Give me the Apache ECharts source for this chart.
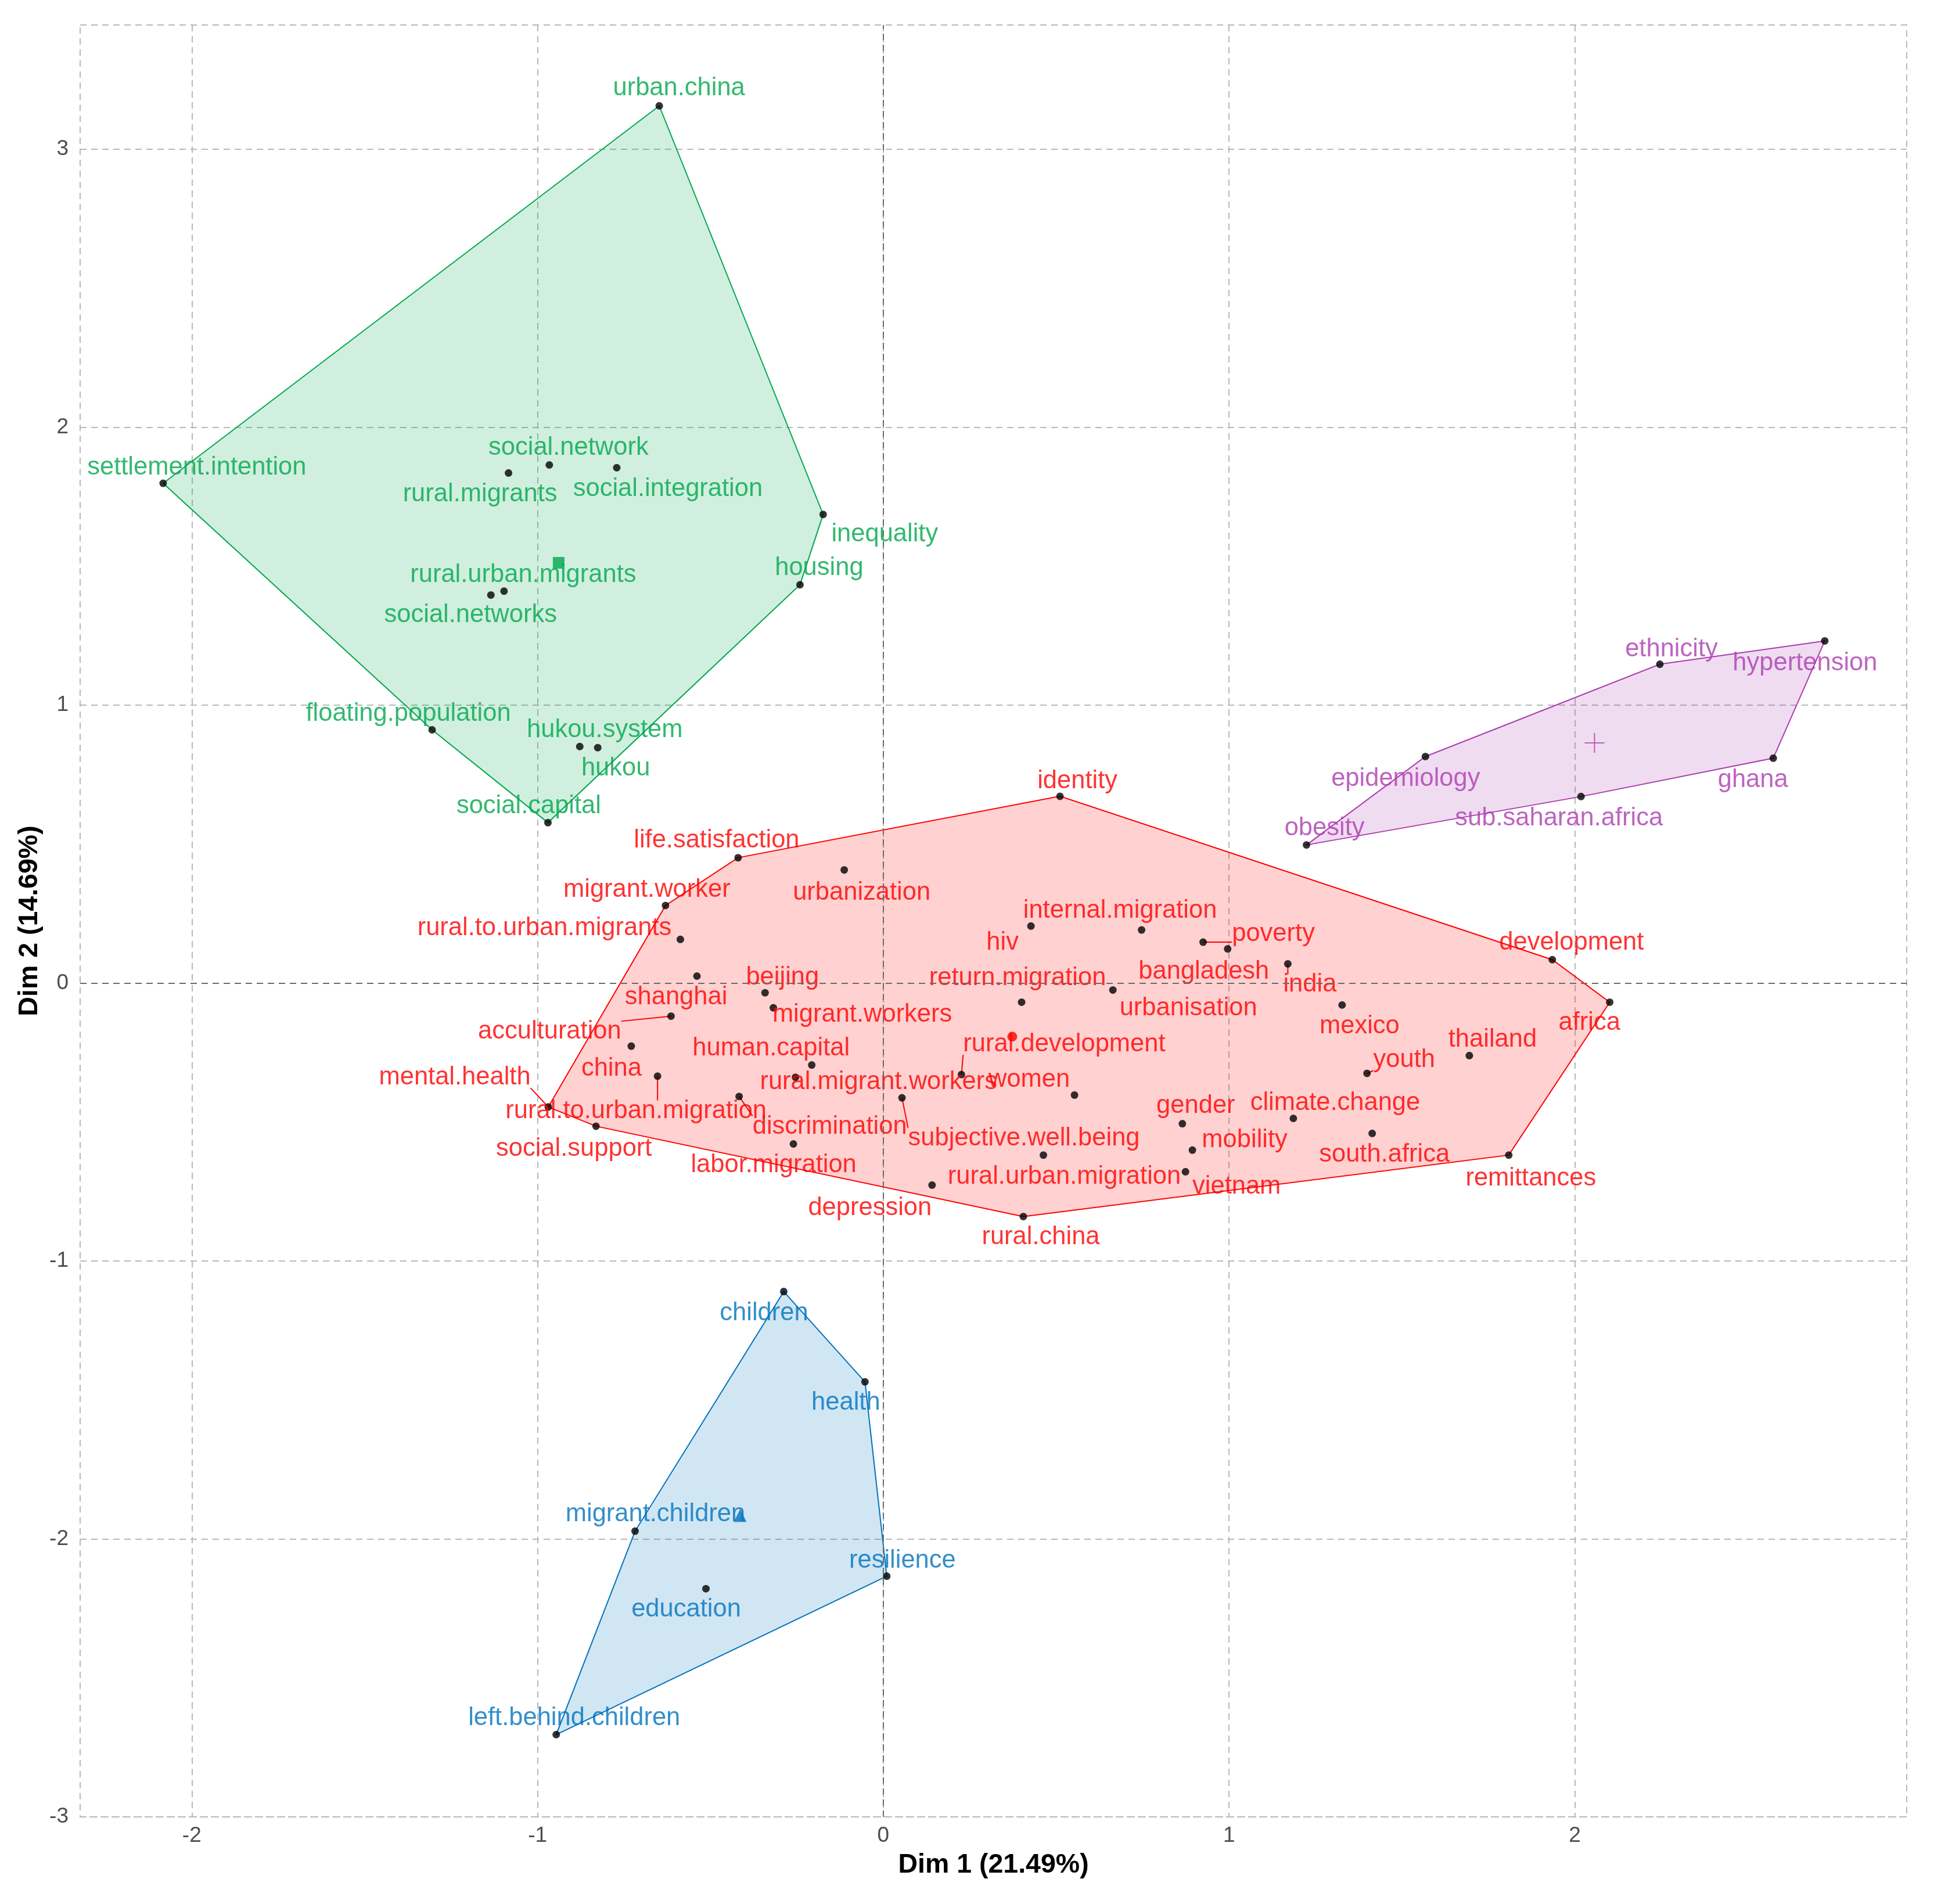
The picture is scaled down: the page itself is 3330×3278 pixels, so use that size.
<!doctype html>
<html>
    <head>
        <meta charset="utf-8">
        <title>Cluster plot - keywords</title>
        <style>
            html, body { margin: 0; padding: 0; background: #fff; }
            #main { width: 3330px; height: 3278px; }
        </style>
    </head>
    <body>
        <div id="main"></div>
        <script src="https://cdn.jsdelivr.net/npm/echarts@6/dist/echarts.min.js"></script>
        <script>
            // tick labels
            var xTicks = [-2, -1, 0, 1, 2];
            var yTicks = [-3, -2, -1, 0, 1, 2, 3];

            // cluster: green
            var greenTerms = ['urban.china', 'settlement.intention', 'social.network', 'rural.migrants',
                'social.integration', 'inequality', 'housing', 'rural.urban.migrants', 'social.networks',
                'floating.population', 'hukou.system', 'hukou', 'social.capital'];
            var greenDim1 = [-0.648, -2.083, -0.966, -1.084, -0.771, -0.174, -0.241, -1.097, -1.135, -1.305, -0.878, -0.826, -0.970];
            var greenDim2 = [3.156, 1.798, 1.864, 1.835, 1.854, 1.686, 1.433, 1.410, 1.396, 0.911, 0.851, 0.847, 0.577];

            // cluster: red
            var redTerms = ['identity', 'life.satisfaction', 'urbanization', 'migrant.worker', 'rural.to.urban.migrants',
                'shanghai', 'beijing', 'migrant.workers', 'acculturation', 'china', 'rural.to.urban.migration',
                'mental.health', 'social.support', 'discrimination', 'labor.migration', 'human.capital',
                'rural.migrant.workers', 'rural.development', 'subjective.well.being', 'depression', 'women',
                'return.migration', 'urbanisation', 'rural.urban.migration', 'rural.china', 'hiv',
                'internal.migration', 'poverty', 'bangladesh', 'india', 'mexico', 'development', 'africa',
                'thailand', 'youth', 'climate.change', 'south.africa', 'gender', 'mobility', 'vietnam', 'remittances'];
            var redDim1 = [0.511, -0.420, -0.113, -0.630, -0.587, -0.539, -0.342, -0.318, -0.614, -0.729, -0.653,
                -0.969, -0.831, -0.417, -0.260, -0.207, -0.254, 0.226, 0.054, 0.141, 0.553, 0.400, 0.664, 0.463,
                0.405, 0.427, 0.747, 0.925, 0.996, 1.170, 1.327, 1.935, 2.101, 1.695, 1.399, 1.186, 1.414, 0.865,
                0.894, 0.874, 1.809];
            var redDim2 = [0.672, 0.451, 0.407, 0.279, 0.157, 0.025, -0.035, -0.089, -0.119, -0.227, -0.335,
                -0.446, -0.515, -0.408, -0.579, -0.295, -0.339, -0.329, -0.413, -0.727, -0.403, -0.069, -0.025,
                -0.619, -0.840, 0.205, 0.191, 0.147, 0.123, 0.069, -0.079, 0.084, -0.069, -0.261, -0.325, -0.487,
                -0.541, -0.506, -0.601, -0.679, -0.619];

            // cluster: blue
            var blueTerms = ['children', 'health', 'resilience', 'education', 'migrant.children', 'left.behind.children'];
            var blueDim1 = [-0.288, -0.053, 0.010, -0.513, -0.718, -0.946];
            var blueDim2 = [-1.110, -1.435, -2.134, -2.179, -1.972, -2.704];

            // cluster: purple
            var purpleTerms = ['hypertension', 'ethnicity', 'epidemiology', 'obesity', 'sub.saharan.africa', 'ghana'];
            var purpleDim1 = [2.723, 2.246, 1.568, 1.224, 2.018, 2.574];
            var purpleDim2 = [1.231, 1.147, 0.815, 0.497, 0.671, 0.809];

            // cluster centres (green, red, blue, purple)
            var centroidDim1 = [-0.939, 0.373, -0.414, 2.057];
            var centroidDim2 = [1.512, -0.193, -1.916, 0.864];

            // label placement (px from the point, like ggrepel left them)
            var labelOffsets = {
                'urban.china': [34, -30], 'settlement.intention': [58, -27], 'social.network': [33, -29],
                'rural.migrants': [-49, 37], 'social.integration': [88, 37], 'inequality': [106, 34],
                'housing': [33, -29], 'rural.urban.migrants': [33, -28], 'social.networks': [-35, 35],
                'floating.population': [-41, -28], 'hukou.system': [43, -28], 'hukou': [31, 36],
                'social.capital': [-33, -28],
                'identity': [30, -26], 'life.satisfaction': [-37, -30], 'urbanization': [30, 39],
                'migrant.worker': [-32, -27], 'rural.to.urban.migrants': [-234, -19], 'shanghai': [-36, 37],
                'beijing': [30, -26], 'migrant.workers': [153, 12], 'acculturation': [-209, 27], 'china': [-34, 39],
                'rural.to.urban.migration': [-37, 60], 'mental.health': [-161, -51], 'social.support': [-38, 39],
                'discrimination': [156, 52], 'labor.migration': [-34, 36], 'human.capital': [-70, -29],
                'rural.migrant.workers': [143, 8], 'rural.development': [177, -52], 'subjective.well.being': [210, 70],
                'depression': [-107, 40], 'women': [-78, -26], 'return.migration': [-7, -41], 'urbanisation': [130, 32],
                'rural.urban.migration': [36, 37], 'rural.china': [30, 36], 'hiv': [-49, 29],
                'internal.migration': [-37, -33], 'poverty': [121, -14], 'bangladesh': [-41, 39], 'india': [38, 36],
                'mexico': [30, 37], 'development': [33, -29], 'africa': [-35, 36], 'thailand': [40, -27],
                'youth': [64, -23], 'climate.change': [72, -26], 'south.africa': [21, 37], 'gender': [23, -31],
                'mobility': [90, -17], 'vietnam': [88, 26], 'remittances': [38, 40],
                'hypertension': [-34, 39], 'ethnicity': [20, -26], 'epidemiology': [-34, 39], 'obesity': [31, -29],
                'sub.saharan.africa': [-38, 38], 'ghana': [-35, 38],
                'children': [-34, 37], 'health': [-33, 36], 'resilience': [27, -27], 'education': [-34, 36],
                'migrant.children': [35, -29], 'left.behind.children': [31, -28]
            };
            // labels that ggrepel tied back to their point with a segment
            var segmentTerms = ['acculturation', 'mental.health', 'poverty', 'rural.development',
                'subjective.well.being', 'rural.to.urban.migration', 'discrimination', 'youth', 'india'];

            var FONT = "'Liberation Sans', Arial, sans-serif";
            var LABEL_SIZE = 43.5;
            var DASH = [11, 8];

            var clusters = [
                { terms: greenTerms, dim1: greenDim1, dim2: greenDim2, color: '#00A84C', symbol: 'rect', size: 20 },
                { terms: redTerms, dim1: redDim1, dim2: redDim2, color: '#FF0000', symbol: 'circle', size: 17 },
                { terms: blueTerms, dim1: blueDim1, dim2: blueDim2, color: '#0073BE', symbol: 'triangle', size: 22 },
                { terms: purpleTerms, dim1: purpleDim1, dim2: purpleDim2, color: '#AC3DB0',
                    symbol: 'path://M16,0h2v34h-2z M0,16h34v2h-34z', size: 34 }
            ];

            function fade(hex, a) {
                var n = parseInt(hex.slice(1), 16);
                return 'rgba(' + (n >> 16 & 255) + ',' + (n >> 8 & 255) + ',' + (n & 255) + ',' + a + ')';
            }

            var measureCtx = document.createElement('canvas').getContext('2d');
            measureCtx.font = LABEL_SIZE + 'px ' + FONT;
            function textWidth(t) {
                return measureCtx.measureText(t).width;
            }

            // convex hull (monotone chain), like chull() in fviz_cluster
            function convexHull(xs, ys) {
                var pts = xs.map(function (x, i) { return [x, ys[i]]; });
                pts.sort(function (a, b) { return a[0] - b[0] || a[1] - b[1]; });
                function cross(o, a, b) {
                    return (a[0] - o[0]) * (b[1] - o[1]) - (a[1] - o[1]) * (b[0] - o[0]);
                }
                var lower = [], upper = [];
                pts.forEach(function (p) {
                    while (lower.length >= 2 && cross(lower[lower.length - 2], lower[lower.length - 1], p) <= 0) lower.pop();
                    lower.push(p);
                });
                for (var i = pts.length - 1; i >= 0; i--) {
                    var p = pts[i];
                    while (upper.length >= 2 && cross(upper[upper.length - 2], upper[upper.length - 1], p) <= 0) upper.pop();
                    upper.push(p);
                }
                lower.pop();
                upper.pop();
                return lower.concat(upper);
            }

            var series = [];

            // dashed zero lines
            series.push({
                type: 'scatter',
                data: [],
                silent: true,
                z: 1,
                markLine: {
                    silent: true,
                    symbol: 'none',
                    animation: false,
                    label: { show: false },
                    lineStyle: { color: '#6A6A6A', width: 2, type: DASH },
                    data: [{ xAxis: 0 }, { yAxis: 0 }]
                }
            });

            clusters.forEach(function (c) {
                var hull = convexHull(c.dim1, c.dim2);
                series.push({
                    type: 'custom',
                    silent: true,
                    z: 2,
                    data: [hull[0]],
                    renderItem: function (params, api) {
                        return {
                            type: 'polygon',
                            shape: { points: hull.map(function (p) { return api.coord(p); }) },
                            style: { fill: fade(c.color, 0.18), stroke: c.color, lineWidth: 2 }
                        };
                    }
                });
            });

            // repel segments: from the point to the nearest edge of its label
            var segItems = [];
            clusters.forEach(function (c) {
                c.terms.forEach(function (t, i) {
                    if (segmentTerms.indexOf(t) >= 0) {
                        segItems.push({ term: t, value: [c.dim1[i], c.dim2[i]], color: c.color });
                    }
                });
            });
            series.push({
                type: 'custom',
                silent: true,
                z: 3,
                data: segItems.map(function (s) { return s.value; }),
                renderItem: function (params, api) {
                    var s = segItems[params.dataIndex];
                    var p = api.coord(s.value);
                    var o = labelOffsets[s.term];
                    var hw = textWidth(s.term) / 2, hh = LABEL_SIZE * 0.42;
                    var cx = p[0] + o[0], cy = p[1] + o[1];
                    var ex = Math.max(cx - hw, Math.min(p[0], cx + hw));
                    var ey = Math.max(cy - hh, Math.min(p[1], cy + hh));
                    return {
                        type: 'line',
                        shape: { x1: p[0], y1: p[1], x2: ex, y2: ey },
                        style: { stroke: s.color, lineWidth: 2 }
                    };
                }
            });

            clusters.forEach(function (c) {
                series.push({
                    type: 'scatter',
                    z: 3,
                    symbolSize: 13,
                    itemStyle: { color: '#000' },
                    emphasis: { disabled: true },
                    label: {
                        show: true,
                        position: 'inside',
                        formatter: '{b}',
                        color: c.color,
                        fontSize: LABEL_SIZE,
                        fontFamily: FONT
                    },
                    data: c.terms.map(function (t, i) {
                        return {
                            name: t,
                            value: [c.dim1[i], c.dim2[i]],
                            label: { offset: labelOffsets[t] || [0, -30] }
                        };
                    })
                });
            });

            series.push({
                type: 'scatter',
                z: 5,
                silent: true,
                data: clusters.map(function (c, i) {
                    return {
                        value: [centroidDim1[i], centroidDim2[i]],
                        symbol: c.symbol,
                        symbolSize: c.size,
                        itemStyle: { color: c.color }
                    };
                })
            });

            var chart = echarts.init(document.getElementById('main'));
            chart.setOption({
                animation: false,
                backgroundColor: '#fff',
                textStyle: { fontFamily: FONT },
                grid: {
                    left: 138, right: 47, top: 43, bottom: 150,
                    outerBoundsMode: 'none',
                    show: true,
                    backgroundColor: 'transparent',
                    borderColor: '#B8B8B8',
                    borderWidth: 2,
                    borderType: DASH
                },
                xAxis: {
                    type: 'value',
                    min: -2.323,
                    max: 2.96,
                    name: 'Dim 1 (21.49%)',
                    nameLocation: 'middle',
                    nameGap: 60,
                    nameTextStyle: { fontSize: 46.5, fontWeight: 'bold', color: '#000', fontFamily: FONT },
                    axisLine: { show: false },
                    axisTick: { show: false, customValues: xTicks },
                    axisLabel: { customValues: xTicks, fontSize: 37, color: '#4D4D4D', margin: 14, fontFamily: FONT },
                    splitLine: { show: true, lineStyle: { color: '#B8B8B8', width: 2, type: DASH } }
                },
                yAxis: {
                    type: 'value',
                    min: -3,
                    max: 3.447,
                    name: 'Dim 2 (14.69%)',
                    nameLocation: 'middle',
                    nameGap: 60,
                    nameRotate: 90,
                    nameTextStyle: { fontSize: 46.5, fontWeight: 'bold', color: '#000', fontFamily: FONT },
                    axisLine: { show: false },
                    axisTick: { show: false, customValues: yTicks },
                    axisLabel: { customValues: yTicks, fontSize: 37, color: '#4D4D4D', margin: 20, fontFamily: FONT },
                    splitLine: { show: true, lineStyle: { color: '#B8B8B8', width: 2, type: DASH } }
                },
                series: series
            });

            window.addEventListener('resize', function () {
                chart.resize();
            });
        </script>
    </body>
</html>
